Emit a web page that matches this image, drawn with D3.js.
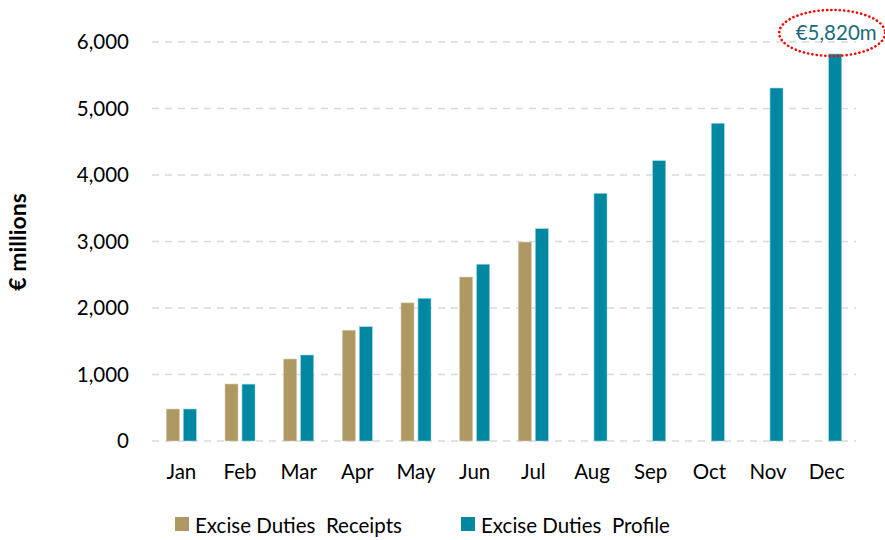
<!DOCTYPE html>
<html>
<head>
<meta charset="utf-8">
<script src="https://cdn.jsdelivr.net/npm/d3@7"></script>
<style>
  html, body { margin: 0; padding: 0; background: #fff; }
  svg { display: block; font-family: Lato, "Noto Sans", sans-serif; }
  text { white-space: pre; }
</style>
</head>
<body>
<svg id="chart" width="885" height="540"></svg>
<script>
// Cumulative monthly excise duties, € millions
const months = ["Jan", "Feb", "Mar", "Apr", "May", "Jun", "Jul", "Aug", "Sep", "Oct", "Nov", "Dec"];
const receipts = [481, 857, 1233, 1666, 2077, 2466, 2992, null, null, null, null, null];
const profile = [481, 855, 1293, 1719, 2146, 2658, 3193, 3724, 4215, 4778, 5308, 5820];
const yTicks = [0, 1000, 2000, 3000, 4000, 5000, 6000];
const seriesNames = ["Excise Duties  Receipts", "Excise Duties  Profile"];
const seriesColors = ["#AD9961", "#0088A3"];
const callout = "€5,820m";

const svg = d3.select("#chart");
const plot = { left: 152, right: 856, top: 42, bottom: 441 };

const x = d3.scaleBand().domain(months).range([plot.left, plot.right]).padding(0);
const y = d3.scaleLinear().domain([0, 6000]).range([plot.bottom, plot.top]);

const barW = 13, gap = 4;
const fontSize = 20.5;

// dashed gridlines
svg.append("g")
  .selectAll("line")
  .data(yTicks)
  .join("line")
  .attr("x1", plot.left).attr("x2", plot.right)
  .attr("y1", d => y(d)).attr("y2", d => y(d))
  .attr("stroke", "#D9D9D9").attr("stroke-width", 1.5)
  .attr("stroke-dasharray", "7,6");

// y axis labels
const yAxis = d3.axisLeft(y).tickValues(yTicks).tickFormat(d3.format(",")).tickSize(0).tickPadding(0);
const yg = svg.append("g").attr("transform", "translate(129,0)").call(yAxis);
yg.select(".domain").remove();
yg.selectAll("text").attr("font-size", fontSize).attr("fill", "#000").attr("font-family", "Lato, sans-serif");

// x axis labels
const xAxis = d3.axisBottom(x).tickSize(0).tickPadding(0);
const xg = svg.append("g").attr("transform", "translate(0,464)").call(xAxis);
xg.select(".domain").remove();
xg.selectAll("text").attr("font-size", fontSize).attr("fill", "#000").attr("font-family", "Lato, sans-serif");

// bars
const seriesData = [receipts, profile];
seriesData.forEach((vals, si) => {
  svg.append("g")
    .selectAll("rect")
    .data(months.map((m, i) => ({ m, v: vals[i] })).filter(d => d.v != null))
    .join("rect")
    .attr("x", d => x(d.m) + x.bandwidth() / 2 + (si === 0 ? -gap / 2 - barW : gap / 2))
    .attr("y", d => y(d.v))
    .attr("width", barW)
    .attr("height", d => y(0) - y(d.v))
    .attr("fill", seriesColors[si])
    .attr("stroke", si === 0 ? "#D8CDAF" : "#9CD3DE")
    .attr("stroke-width", 0.6);
});

// y axis title
svg.append("text")
  .attr("transform", "translate(26,242) rotate(-90)")
  .attr("text-anchor", "middle")
  .attr("font-size", 23).attr("font-weight", "bold")
  .attr("fill", "#000")
  .text("€ millions");

// year-end callout
const lastX = x("Dec") + x.bandwidth() / 2 + gap / 2 + barW / 2;
svg.append("text")
  .attr("x", lastX + 1)
  .attr("y", y(profile[11]) - 14)
  .attr("text-anchor", "middle")
  .attr("font-size", fontSize)
  .attr("fill", "#1A6B7C")
  .text(callout);
svg.append("ellipse")
  .attr("cx", lastX - 3).attr("cy", y(profile[11]) - 21)
  .attr("rx", 53).attr("ry", 23)
  .attr("fill", "none")
  .attr("stroke", "#FF0000").attr("stroke-width", 2.6)
  .attr("stroke-dasharray", "0.1,4.2").attr("stroke-linecap", "round");

// legend
const legendPos = [175, 461];
const lg = svg.append("g");
seriesNames.forEach((name, i) => {
  lg.append("rect")
    .attr("x", legendPos[i]).attr("y", 517)
    .attr("width", 14).attr("height", 14)
    .attr("fill", seriesColors[i]);
  lg.append("text")
    .attr("x", legendPos[i] + 20).attr("y", 525)
    .attr("dominant-baseline", "central")
    .attr("font-size", fontSize).attr("fill", "#000")
    .text(name);
});
</script>
</body>
</html>
